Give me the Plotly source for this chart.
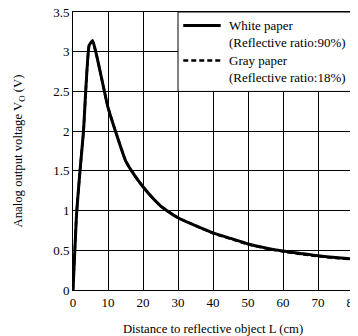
import plotly.graph_objects as go

distance_white = [0, 1, 2, 3, 4.6, 5.6, 6.5, 8, 10, 12.5, 15, 17.5, 20, 22.5, 25, 27.5, 30, 35, 40, 45, 50, 55, 60, 65, 70, 75, 80]
voltage_white = [0, 0.95, 1.5, 2.0, 3.08, 3.14, 3.0, 2.7, 2.3, 1.95, 1.63, 1.45, 1.3, 1.17, 1.06, 0.98, 0.91, 0.81, 0.72, 0.65, 0.58, 0.53, 0.49, 0.46, 0.43, 0.41, 0.39]
distance_gray = [0, 1, 2, 3, 4.6, 5.6, 6.5, 8, 10, 12.5, 15, 17.5, 20, 22.5, 25, 27.5, 30, 35, 40, 45, 50, 55, 60, 65, 70, 75, 80]
voltage_gray = [0, 0.95, 1.5, 2.0, 3.07, 3.13, 3.0, 2.7, 2.3, 1.95, 1.63, 1.45, 1.3, 1.17, 1.06, 0.98, 0.91, 0.81, 0.715, 0.645, 0.575, 0.525, 0.485, 0.452, 0.425, 0.403, 0.385]

x_ticks = [0, 10, 20, 30, 40, 50, 60, 70, 80]
y_ticks = [0, 0.5, 1, 1.5, 2, 2.5, 3, 3.5]
y_tick_labels = ["0", "0.5", "1", "1.5", "2", "2.5", "3", "3.5"]

legend_names = ["White paper", "Gray paper"]
legend_notes = ["(Reflective ratio:90%)", "(Reflective ratio:18%)"]

font_family = "Liberation Serif, Times New Roman, serif"

WHITE_LINE = dict(color="black", width=3)
GRAY_LINE = dict(color="black", width=2.5, dash="5px,3px")

fig = go.Figure()
fig.add_trace(go.Scatter(x=distance_white, y=voltage_white, mode="lines", name=legend_names[0],
                         showlegend=False,
                         line=dict(**WHITE_LINE, shape="spline", smoothing=0.4)))
fig.add_trace(go.Scatter(x=distance_gray, y=voltage_gray, mode="lines", name=legend_names[1],
                         showlegend=False,
                         line=dict(**GRAY_LINE, shape="spline", smoothing=0.4)))

axis_common = dict(showgrid=True, gridcolor="black", gridwidth=1, showline=True, linecolor="black",
                   linewidth=1, mirror=True, zeroline=False, ticks="", ticklabeloverflow="allow",
                   tickfont=dict(family=font_family, size=13, color="black"))

fig.update_xaxes(range=[0, 80], tickvals=x_ticks, ticktext=[str(v) for v in x_ticks],
                 automargin=False,
                 title=dict(text="Distance to reflective object L (cm)", font=dict(family=font_family, size=12.7, color="black")),
                 **axis_common)
fig.update_yaxes(range=[0, 3.5], tickvals=y_ticks, ticktext=y_tick_labels,
                 automargin="left",
                 title=dict(text="Analog output voltage V<sub>O</sub> (V)", font=dict(family=font_family, size=12.7, color="black"), standoff=27),
                 **axis_common)

# legend drawn as a boxed key in the upper-right cells (x 30-80, y 2.5-3.5)
fig.add_shape(type="rect", xref="x", yref="y", x0=30, x1=80, y0=2.5, y1=3.5,
              fillcolor="white", line=dict(color="black", width=1), layer="above")
key_rows = [(3.33, 3.11, WHITE_LINE), (2.89, 2.67, GRAY_LINE)]
for (y_name, y_note, style), name, note in zip(key_rows, legend_names, legend_notes):
    fig.add_shape(type="line", xref="x", yref="y", x0=31.5, x1=42.2, y0=y_name, y1=y_name,
                  line=style, layer="above")
    fig.add_annotation(x=44.0, y=y_name, xref="x", yref="y", text=name, showarrow=False,
                       xanchor="left", yanchor="middle",
                       font=dict(family=font_family, size=13, color="black"))
    fig.add_annotation(x=44.0, y=y_note, xref="x", yref="y", text=note, showarrow=False,
                       xanchor="left", yanchor="middle",
                       font=dict(family=font_family, size=13, color="black"))

# page body has an 8px margin; figure is sized so that it fills the 358x336 window
fig.update_layout(
    width=350, height=328,
    margin=dict(l=65, r=5, t=4, b=46),
    paper_bgcolor="white", plot_bgcolor="white",
    font=dict(family=font_family, color="black"),
    showlegend=False,
)

fig.write_html("out.html")
